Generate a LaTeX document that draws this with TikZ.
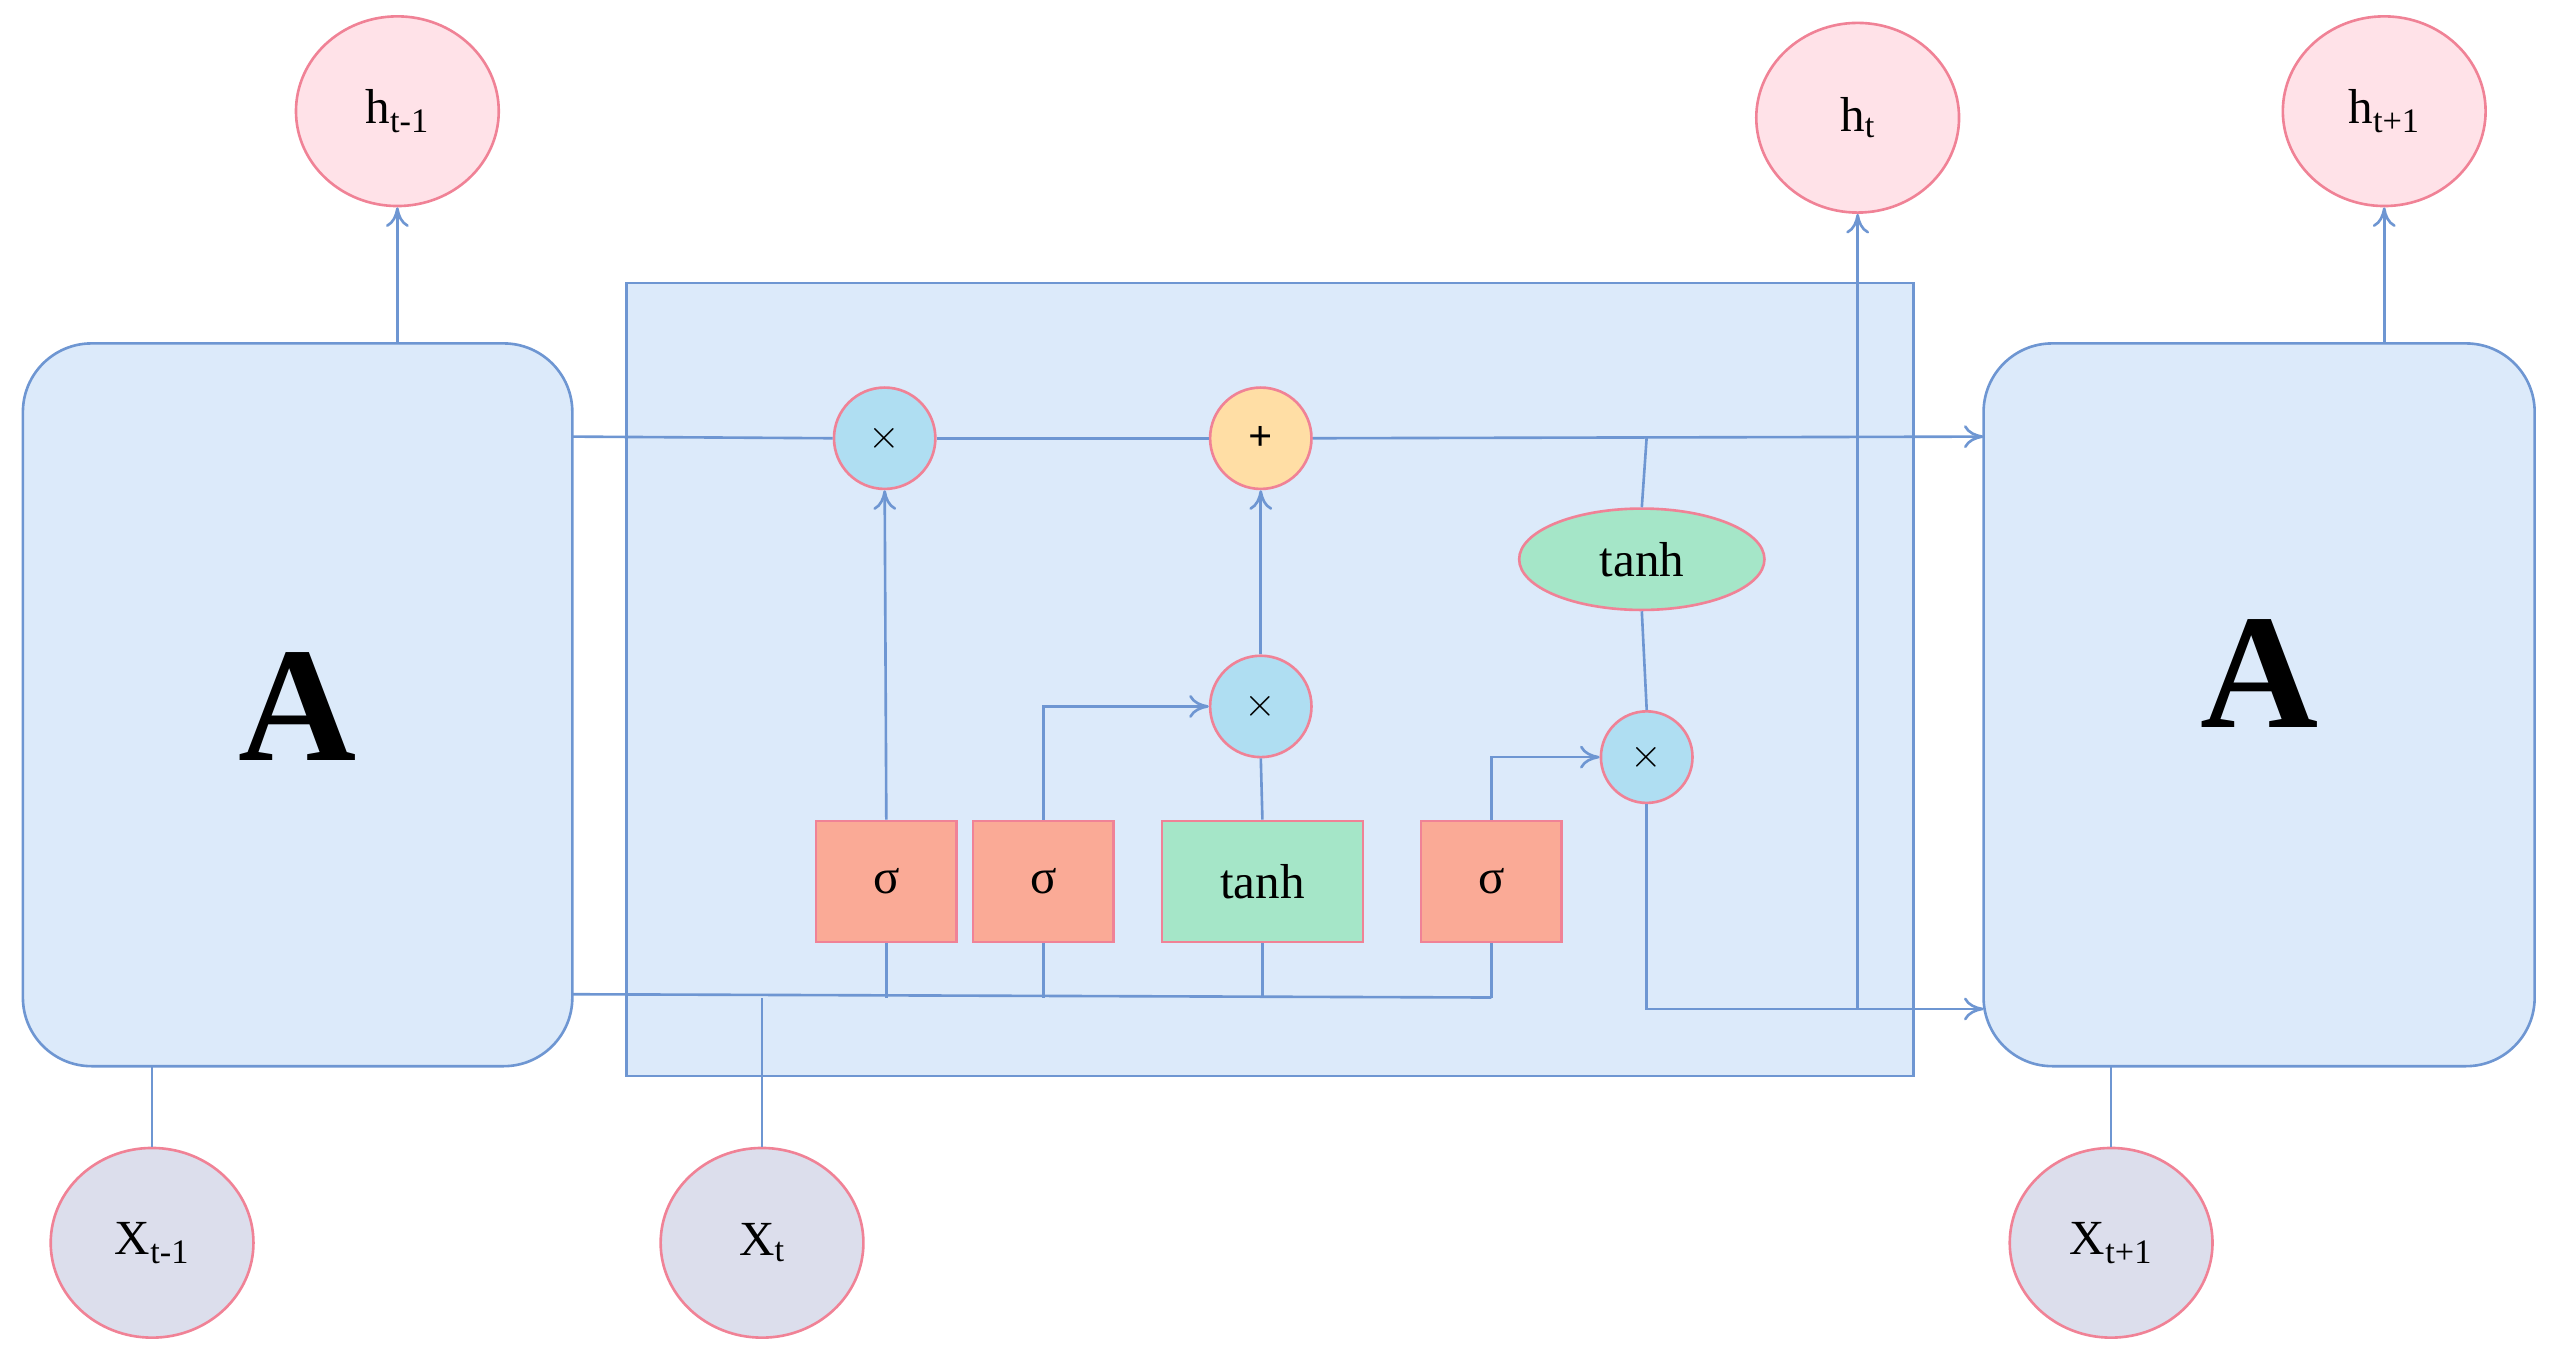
\documentclass[tikz,border=0pt]{standalone}
\usepackage{fontspec}
\setmainfont{Liberation Serif}
\usetikzlibrary{arrows.meta,shapes.geometric}
\definecolor{bfill}{RGB}{220,234,250}
\definecolor{bline}{RGB}{110,150,210}
\definecolor{pline}{RGB}{240,130,150}
\definecolor{hfill}{RGB}{255,226,232}
\definecolor{xfill}{RGB}{220,222,236}
\definecolor{opfill}{RGB}{175,222,242}
\definecolor{plusfill}{RGB}{255,222,165}
\definecolor{gfill}{RGB}{165,230,200}
\definecolor{sfill}{RGB}{250,170,150}
\tikzset{
  wire/.style={draw=bline,line width=1.6pt},
  arr/.style={wire,-{To[length=12pt,width=14pt]}},
  hcirc/.style={ellipse,draw=pline,line width=1.6pt,fill=hfill,minimum width=124,minimum height=116,font=\fontsize{30}{32}\selectfont},
  xcirc/.style={hcirc,fill=xfill},
  opc/.style={circle,draw=pline,line width=1.6pt,fill=opfill,minimum size=62,font=\fontsize{26}{28}\selectfont\bfseries,inner sep=0},
  gatebox/.style={rectangle,draw=pline,line width=1.6pt,fill=sfill,minimum width=86,minimum height=74,font=\fontsize{30}{32}\selectfont},
}
\begin{document}
\begin{tikzpicture}[x=1pt,y=-1pt]
\useasboundingbox (0,0) rectangle (1560,837);
\draw[bline,line width=1.6pt,fill=bfill,rounded corners=42] (14,210) rectangle (350,652);
\draw[bline,line width=1.6pt,fill=bfill,rounded corners=42] (1213,210) rectangle (1550,652);
\draw[bline,line width=1.6pt,fill=bfill] (383,173) rectangle (1170,658);
\node[font=\fontsize{100}{100}\selectfont\bfseries] (A1) at (182,432) {A};
\node[font=\fontsize{100}{100}\selectfont\bfseries] (A2) at (1382,412) {A};
\coordinate (Aleft) at (350,267);
\coordinate (Aright) at (1213,267);
\node[hcirc] (h0) at (243,68) {h\textsubscript{t-1}};
\node[hcirc] (h1) at (1136,72) {h\textsubscript{t}};
\node[hcirc] (h2) at (1458,68) {h\textsubscript{t+1}};
\node[xcirc] (x0) at (93,760) {X\textsubscript{t-1}};
\node[xcirc] (x1) at (466,760) {X\textsubscript{t}};
\node[xcirc] (x2) at (1291,760) {X\textsubscript{t+1}};
\node[opc] (m1) at (541,268) {$\times$};
\node[opc,fill=plusfill] (p1) at (771,268) {+};
\node[opc] (m2) at (771,432) {$\times$};
\node[opc,minimum size=56] (m3) at (1007,463) {$\times$};
\node[ellipse,draw=pline,line width=1.6pt,fill=gfill,minimum width=150,minimum height=62,font=\fontsize{30}{32}\selectfont] (th) at (1004,342) {tanh};
\node[gatebox] (s1) at (542,539) {σ};
\node[gatebox] (s2) at (638,539) {σ};
\node[gatebox,fill=gfill,minimum width=123] (tb) at (772,539) {tanh};
\node[gatebox] (s3) at (912,539) {σ};
% cell state
\draw[wire] (Aleft) -- (m1.west);
\draw[wire] (m1.east) -- (p1.west);
\draw[arr] (p1.east) -- (Aright);
% input bus
\coordinate (b0) at (350,608);
\coordinate (b1) at (912,610);
\draw[wire] (b0) -- (b1);
\draw[wire] (s1.south) -- (542,610);
\draw[wire] (s2.south) -- (638,610);
\draw[wire] (tb.south) -- (772,610);
\draw[wire] (s3.south) -- (b1);
\draw[wire] (x1.north) -- (466,610);
% gates
\draw[arr] (s1.north) -- (m1.south);
\draw[arr] (s2.north) |- (m2.west);
\draw[wire] (tb.north) -- (m2.south);
\draw[arr] (m2.north) -- (p1.south);
\draw[arr] (s3.north) |- (m3.west);
\draw[wire] (1007,267) -- (th.north);
\draw[wire] (th.south) -- (m3.north);
\coordinate (hc) at (1136,617);
\draw[arr] (m3.south) |- (1213,617);
\draw[arr] (hc) -- (h1.south);
% outer
\draw[arr] (243,210) -- (h0.south);
\draw[arr] (1458,210) -- (h2.south);
\draw[wire] (x0.north) -- (93,652);
\draw[wire] (x2.north) -- (1291,652);
\end{tikzpicture}
\end{document}
